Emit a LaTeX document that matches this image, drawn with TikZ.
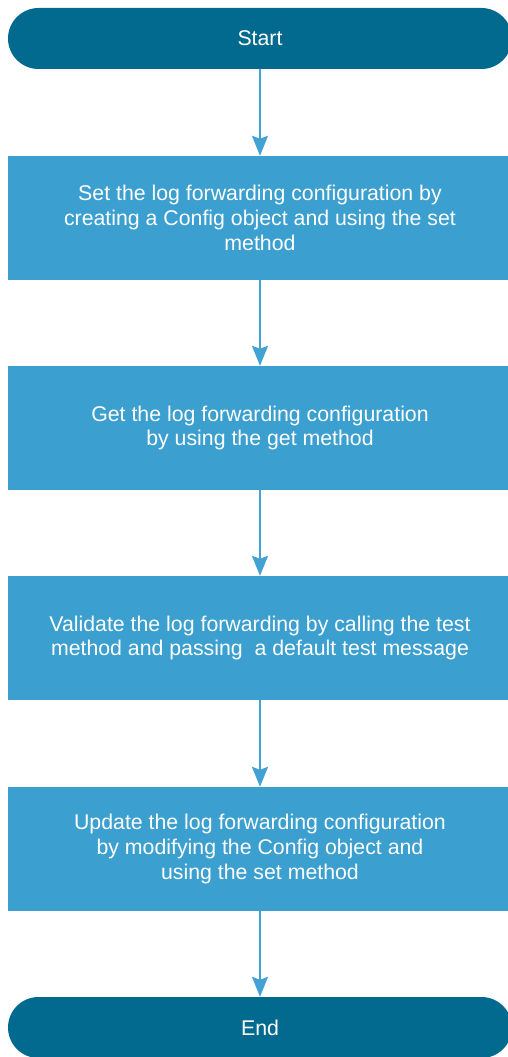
\documentclass[tikz,border=0pt]{standalone}
\usepackage{fontspec}
\setmainfont{Liberation Sans}
\usetikzlibrary{arrows.meta}
\definecolor{darkteal}{RGB}{2,106,143}
\definecolor{boxblue}{RGB}{59,159,207}
\definecolor{arrowblue}{RGB}{66,162,212}
\begin{document}
\begin{tikzpicture}[x=1pt,y=-1pt,
  every node/.style={font=\fontsize{21.3}{24.7}\selectfont, text=white, align=center, inner sep=0pt},
  terminal/.style={fill=darkteal, rounded corners=30.5pt, minimum width=504pt, minimum height=61pt},
  stepbox/.style={fill=boxblue, minimum width=504pt, minimum height=124pt},
  conn/.style={draw=arrowblue, line width=2pt, -{Stealth[width=16pt,length=20pt,inset=3pt]}}]
\useasboundingbox (0,0) rectangle (508,1057);
\clip (0,0) rectangle (508,1057);
\node[terminal] (start) at (260,38.5) {Start};
\node[stepbox] (s1) at (260,218) {Set the log forwarding configuration by\\creating a Config object and using the set\\method};
\node[stepbox] (s2) at (260,428) {Get the log forwarding configuration\\by using the get method};
\node[stepbox] (s3) at (260,638) {Validate the log forwarding by calling the test\\method and passing~ a default test message};
\node[stepbox] (s4) at (260,849) {Update the log forwarding configuration\\by modifying the Config object and\\using the set method};
\node[terminal] (end) at (260,1027.5) {End};
\draw[conn] (start) -- (s1);
\draw[conn] (s1) -- (s2);
\draw[conn] (s2) -- (s3);
\draw[conn] (s3) -- (s4);
\draw[conn] (s4) -- (end);
\end{tikzpicture}
\end{document}
